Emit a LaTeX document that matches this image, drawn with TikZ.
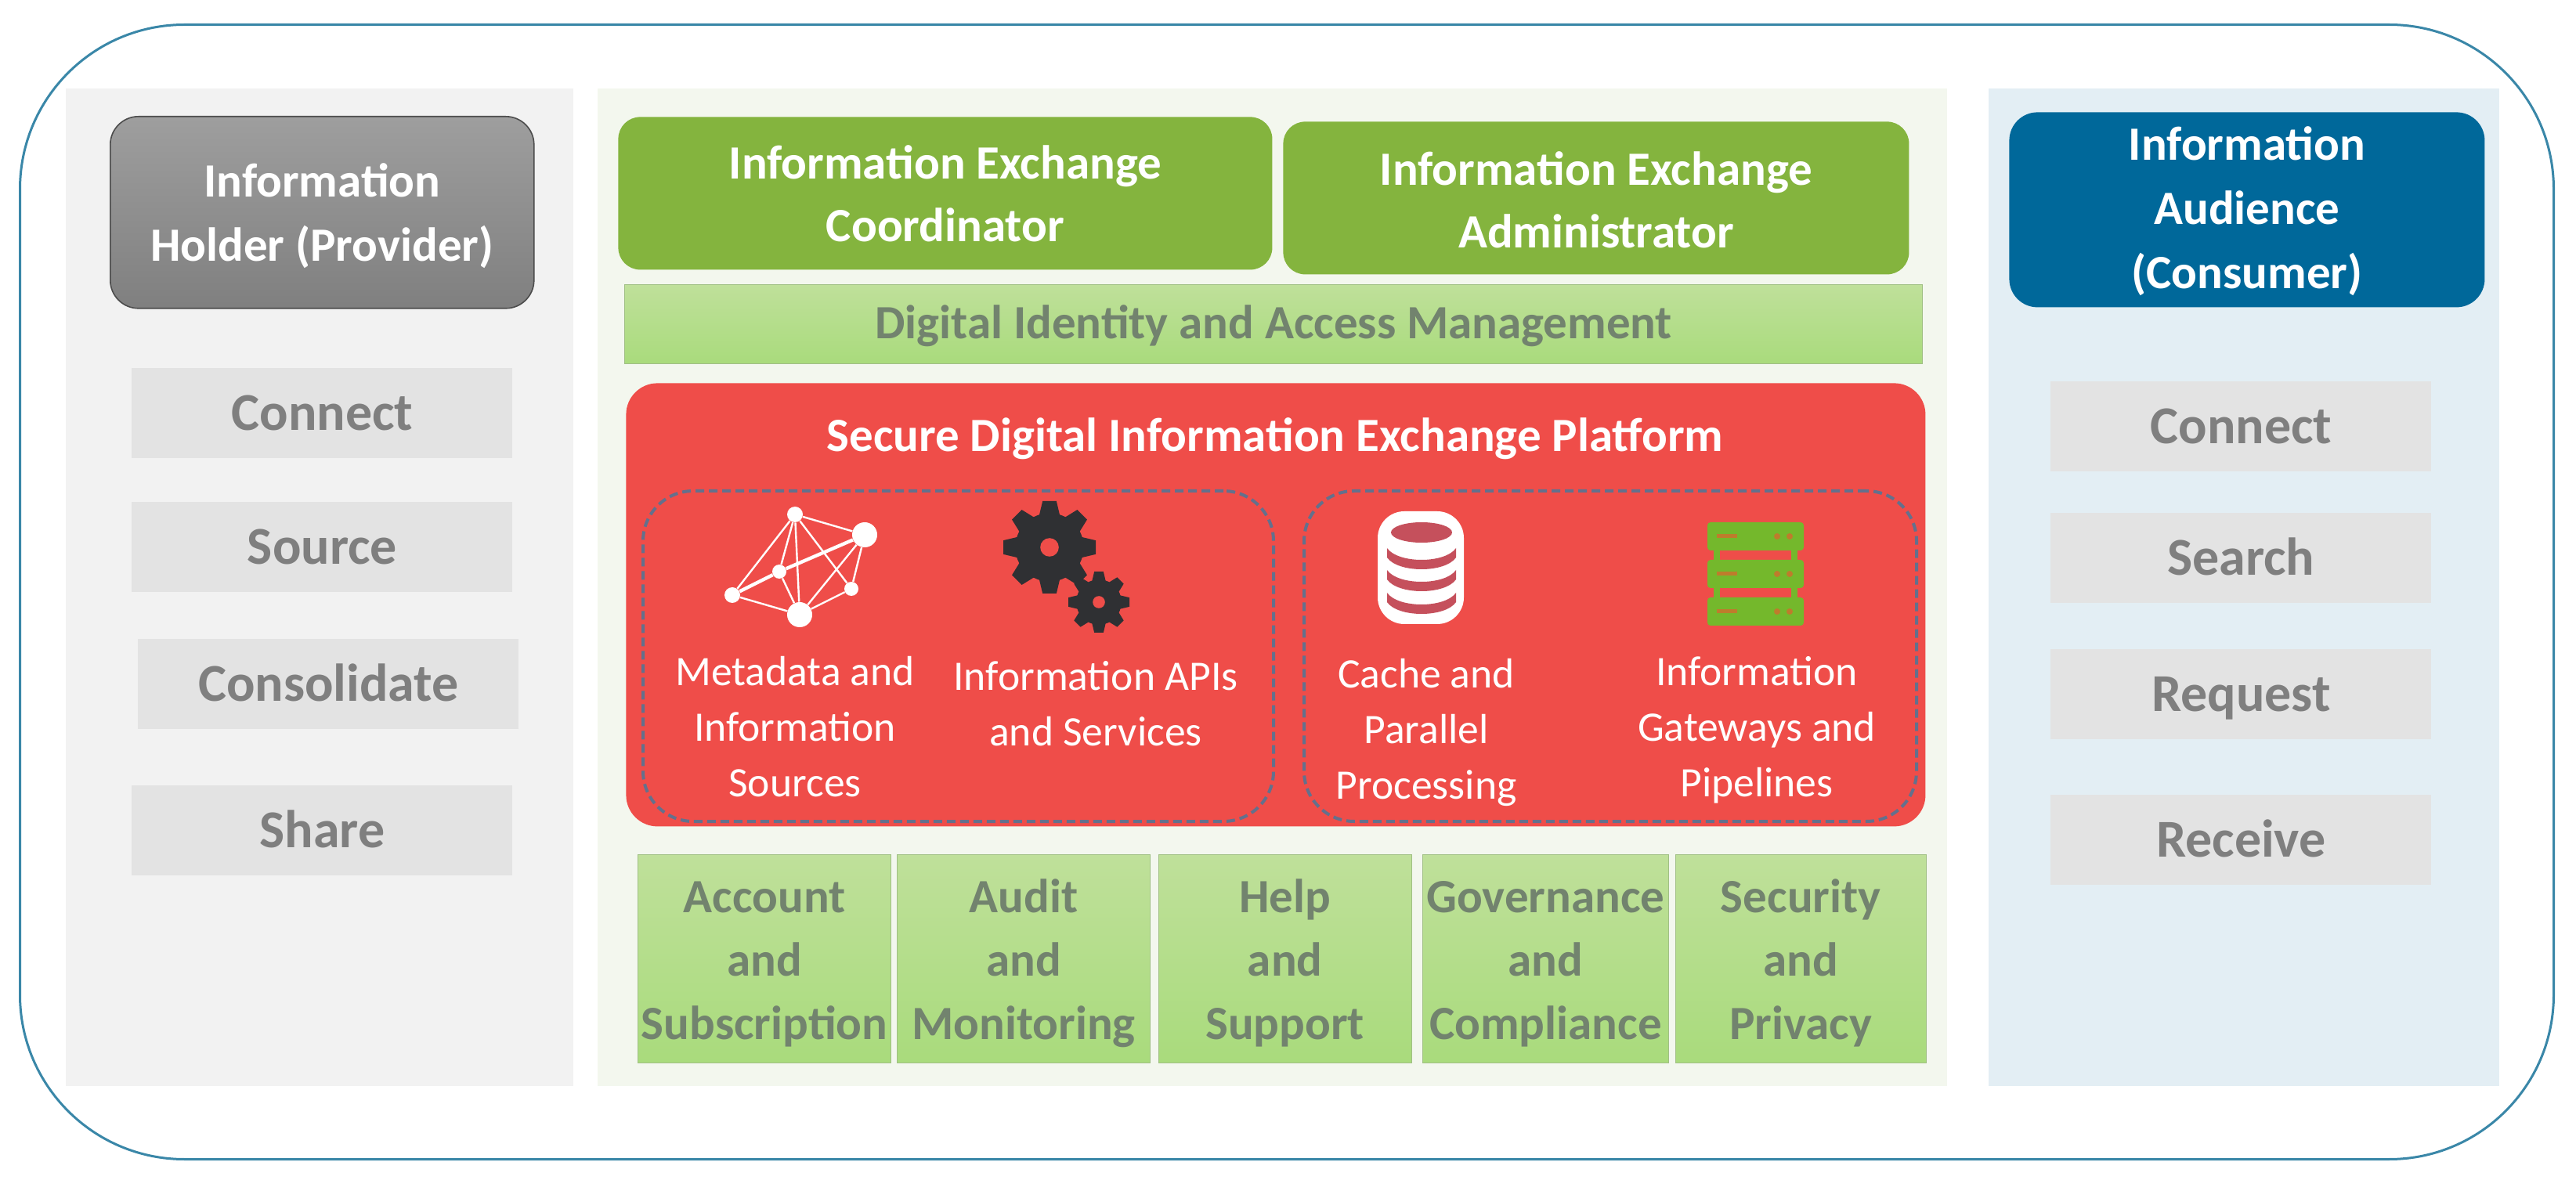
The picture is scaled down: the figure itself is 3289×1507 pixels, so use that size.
\documentclass[tikz,border=0pt]{standalone}
\usepackage{fontspec}
\setmainfont{Carlito}
\usepackage{xcolor}
\usetikzlibrary{positioning, calc}

\definecolor{frameblue}{HTML}{3A87A8}
\definecolor{leafgreen}{HTML}{84B43E}
\definecolor{bandtop}{HTML}{BFE09A}
\definecolor{bandbottom}{HTML}{A9DB7C}
\definecolor{bandedge}{HTML}{A0BF84}
\definecolor{bandtext}{HTML}{72836E}
\definecolor{platformred}{HTML}{EF4D49}
\definecolor{audienceblue}{HTML}{00689A}
\definecolor{audiencepale}{HTML}{E3EEF4}
\definecolor{hubpale}{HTML}{F3F7EE}
\definecolor{labelgrey}{HTML}{7F7F7F}
\definecolor{dashslate}{HTML}{64708C}
\definecolor{geardark}{HTML}{2F3033}
\definecolor{diskred}{HTML}{C5505C}
\definecolor{rackgreen}{HTML}{74B82C}
\definecolor{rackmark}{HTML}{BE7C2C}

\begin{document}
\begin{tikzpicture}[
  x=0.5pt, y=-0.5pt,
  size/.style 2 args={minimum width=#1*0.5pt, minimum height=#2*0.5pt, inner sep=0pt, anchor=north west},
  panel/.style={fill=#1, inner sep=0pt, anchor=north west},
  lastline/.style={text height=#1, text depth=0pt},
  actor/.style={rounded corners=18pt, text=white, align=center, font=\fontsize{30.5}{41}\selectfont\bfseries},
  leader/.style={fill=leafgreen, rounded corners=14pt, text=white, align=center, font=\fontsize{30.5}{40}\selectfont\bfseries},
  verb/.style={fill=black!11, text=labelgrey, text height=26pt, text depth=4pt, font=\fontsize{34}{36}\selectfont\bfseries},
  service/.style={top color=bandtop, bottom color=bandbottom, draw=bandedge, line width=.6pt, text=bandtext, align=center, font=\fontsize{30.5}{40.5}\selectfont\bfseries},
  feature/.style={text=white, align=center, font=\fontsize{26.8}{35.5}\selectfont},
  group/.style={draw=dashslate, line width=2pt, dash pattern=on 5.5pt off 3pt, rounded corners=32pt},
  hub/.style={circle, fill=white, inner sep=0pt, minimum size=#1*1pt},
  gear/.pic={
    \fill[geardark] (0,0) circle (0.74);
    \foreach \a in {0,45,...,315}
      \fill[geardark, rotate=\a] (-0.24,0.62) -- (-0.15,1) -- (0.15,1) -- (0.24,0.62) -- cycle;
    \fill[platformred] (0,0) circle (0.2);
  }
]
\useasboundingbox (0,0) rectangle (3289,1507);

% --- Outer frame and three columns ---
\node[size={3235}{1449}, draw=frameblue, line width=1.5pt, rounded corners=105pt] (frame) at (24,30) {};
\node[panel=black!5, size={648}{1274}] (holderpanel) at (84,113) {};
\node[panel=hubpale, size={1723}{1274}] (hubpanel) at (763,113) {};
\node[panel=audiencepale, size={652}{1274}] (audiencepanel) at (2539,113) {};

% --- Left column ---
\node[actor, size={541}{245}, lastline=62pt, top color=black!38, bottom color=black!50, draw=black!70, line width=.8pt] (holder) at (140,148) {Information\\Holder (Provider)};
\node[verb, size={486}{115}] (lconnect) at (168,470) {Connect};
\node[verb, size={486}{115}, below=27.5pt of lconnect] (lsource) {Source};
\node[verb, size={486}{115}, below=29.5pt of lsource, xshift=4pt] (lconsolidate) {Consolidate};
\node[verb, size={486}{115}, below=35.5pt of lconsolidate, xshift=-4pt] (lshare) {Share};

% --- Right column ---
\node[actor, size={607}{249}, lastline=101pt, fill=audienceblue] (audience) at (2565,143) {Information\\Audience\\(Consumer)};
\node[verb, size={486}{115}] (rconnect) at (2618,487) {Connect};
\node[verb, size={486}{115}, below=26pt of rconnect] (rsearch) {Search};
\node[verb, size={486}{115}, below=29pt of rsearch] (rrequest) {Request};
\node[verb, size={486}{115}, below=35pt of rrequest] (rreceive) {Receive};

% --- Centre, top ---
\node[leader, size={835}{195}, lastline=62pt] (coordinator) at (789,149) {Information Exchange\\Coordinator};
\node[leader, size={799}{195}, lastline=64pt] (administrator) at (1638,155) {Information Exchange\\Administrator};
\node[service, size={1657}{101}, text height=24pt, text depth=6pt] (identity) at (797,363) {Digital Identity and Access Management};

% --- Platform ---
\node[size={1659}{566}, fill=platformred, rounded corners=20pt] (platform) at (799,489) {};
\node[text=white, font=\fontsize{30.5}{34}\selectfont\bfseries] (platformtitle) at (1628,560) {Secure Digital Information Exchange Platform};
\node[group, size={805}{422}] (leftgroup) at (819,625) {};
\node[group, size={782}{422}] (rightgroup) at (1663,625) {};

% --- Network icon ---
\node[hub=10] (nt) at (1015,657) {};
\node[hub=16] (nr) at (1104,683) {};
\node[hub=9] (nm) at (995,730) {};
\node[hub=10] (nl) at (935,760) {};
\node[hub=16] (nb) at (1021,785) {};
\node[hub=9] (nq) at (1087,752) {};
\foreach \p/\q in {nt/nr, nt/nl, nt/nb, nt/nq, nt/nm, nr/nb, nr/nq, nl/nb, nb/nq, nm/nb}
  \draw[white, line width=1.2pt] (\p) -- (\q);
\draw[white, line width=2.2pt] (nr) -- (nm) -- (nl);

% --- Gears ---
\pic[scale=59] (biggear) at (1340,699) {gear};
\pic[scale=39] (smallgear) at (1403,769) {gear};

% --- Database icon ---
\fill[white, rounded corners=17pt] (1759,653) rectangle (1869,797);
\fill[diskred] (1815,680) ellipse (39 and 13);
\foreach \y in {700,728,757}
  \fill[diskred] (1771,\y) .. controls (1785,\y+20) and (1845,\y+20) .. (1859,\y) -- (1859,\y+12)
    .. controls (1845,\y+32) and (1785,\y+32) .. (1771,\y+12) -- cycle;

% --- Server icon ---
\fill[rackgreen] (2188,690) rectangle (2196,780);
\fill[rackgreen] (2287,690) rectangle (2295,780);
\foreach \y in {667,715,763} {
  \fill[rackgreen, rounded corners=2pt] (2180,\y) rectangle (2303,\y+36);
  \fill[rackmark] (2192,\y+15) rectangle (2218,\y+20);
  \fill[rackmark] (2269,\y+18) circle (4);
  \fill[rackmark] (2285,\y+18) circle (4);
}

% --- Platform labels ---
\node[feature] (metadata) at (1015,928) {Metadata and\\Information\\Sources};
\node[feature] (apis) at (1399,899) {Information APIs\\and Services};
\node[feature] (cache) at (1821,935) {Cache and\\Parallel\\Processing};
\node[feature] (gateways) at (2243,932) {Information\\Gateways and\\Pipelines};

% --- Bottom row ---
\node[service, size={323}{266}, lastline=103pt] (account) at (814,1091) {Account\\and\\Subscription};
\node[service, size={323}{266}, lastline=103pt, right=3.3pt of account] (audit) {Audit\\and\\Monitoring};
\node[service, size={323}{266}, lastline=103pt, right=4.8pt of audit] (help) {Help\\and\\Support};
\node[service, size={314}{266}, lastline=103pt, right=6.5pt of help] (governance) {Governance\\and\\Compliance};
\node[service, size={320}{266}, lastline=103pt, right=3.8pt of governance] (security) {Security\\and\\Privacy};

\end{tikzpicture}
\end{document}
